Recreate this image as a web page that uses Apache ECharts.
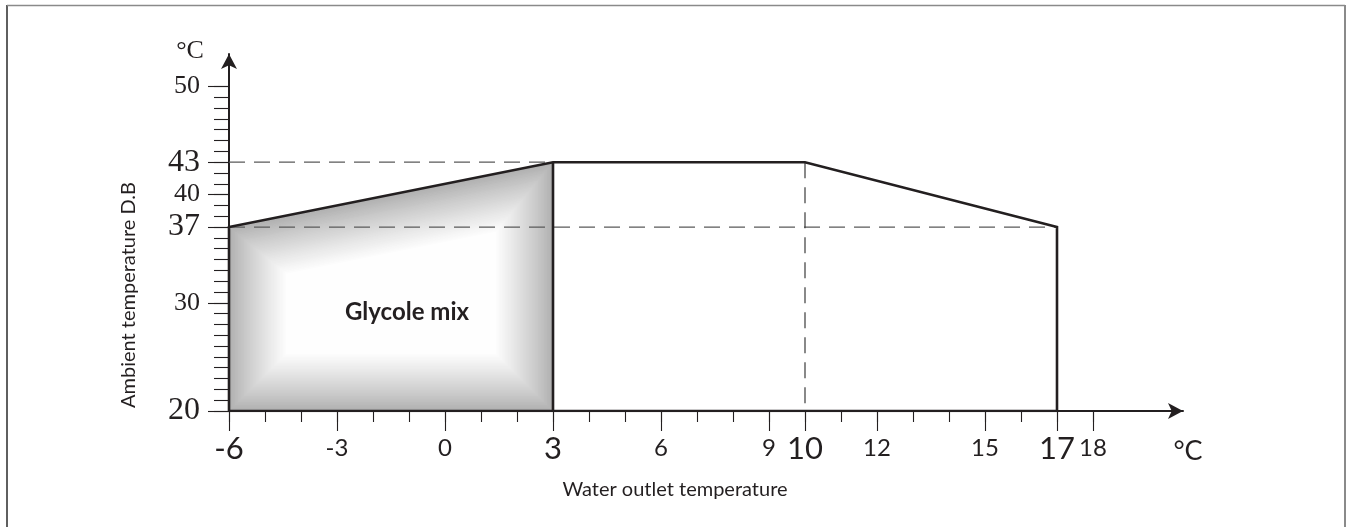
<!DOCTYPE html>
<html><head><meta charset="utf-8">
<script src="https://cdn.jsdelivr.net/npm/echarts@6/dist/echarts.min.js"></script>
<style>html,body{margin:0;padding:0;background:#fff}#c{width:1350px;height:527px}</style>
</head><body><div id="c"></div>
<script>
// ---- data ----
const xMinorTicks = [-6,-5,-4,-3,-2,-1,0,1,2,3,4,5,6,7,8,9,10,11,12,13,14,15,16,17,18];
const xMajorTicks = [-6,-3,0,3,6,9,10,12,15,17,18];
const xBigLabels  = [-6,3,10,17];
const yMinorTicks = [20,21,22,23,24,25,26,27,28,29,30,31,32,33,34,35,36,37,38,39,40,41,42,43,44,45,46,47,48,49,50];
const yMajorTicks = [20,30,37,40,43,50];
const yBigLabels  = [20,37,43];

const envelopeX = [-6,-6,3,10,17,17,-6];
const envelopeY = [20,37,43,43,37,20,20];
const splitX = [3,3];
const splitY = [43,20];
const glycolX = [-6,-6,3,3];
const glycolY = [20,37,43,20];
const ref43X = [-6,3];  const ref43Y = [43,43];
const ref37X = [-6,17]; const ref37Y = [37,37];
const ref10X = [10,10]; const ref10Y = [43,20];

const pairs = (xs, ys) => xs.map((x, i) => [x, ys[i]]);

// ---- helpers for the bevel-shaded glycol area ----
function insetPolygon(pts, d) {
  const n = pts.length;
  let cx = 0, cy = 0;
  pts.forEach(p => { cx += p[0]; cy += p[1]; });
  cx /= n; cy /= n;
  const lines = [];
  for (let i = 0; i < n; i++) {
    const a = pts[i], b = pts[(i + 1) % n];
    let ux = b[0] - a[0], uy = b[1] - a[1];
    const len = Math.hypot(ux, uy); ux /= len; uy /= len;
    let nx = -uy, ny = ux;
    if ((cx - a[0]) * nx + (cy - a[1]) * ny < 0) { nx = -nx; ny = -ny; }
    lines.push({ p: [a[0] + nx * d, a[1] + ny * d], u: [ux, uy] });
  }
  const out = [];
  for (let i = 0; i < n; i++) {
    const L1 = lines[(i - 1 + n) % n], L2 = lines[i];
    const cr = L1.u[0] * L2.u[1] - L1.u[1] * L2.u[0];
    const bx = L2.p[0] - L1.p[0], by = L2.p[1] - L1.p[1];
    const s = (bx * L2.u[1] - by * L2.u[0]) / cr;
    out.push([L1.p[0] + L1.u[0] * s, L1.p[1] + L1.u[1] * s]);
  }
  return out;
}
function shade(t) {
  const g0 = 174;
  const e = Math.pow(t, 0.85);
  const v = Math.round(g0 + (255 - g0) * e);
  return 'rgb(' + v + ',' + v + ',' + v + ')';
}

const chart = echarts.init(document.getElementById('c'), null, { renderer: 'canvas' });
const ink = '#231f20';
const sans = 'Lato';
const serif = 'Liberation Serif';

chart.setOption({
  animation: false,
  backgroundColor: '#fff',
  grid: { left: 229, top: 54, width: 954, height: 357, containLabel: false, outerBoundsMode: 'none' },
  xAxis: [
    {
      type: 'value', min: -6, max: 20.5, position: 'bottom',
      axisLine: { onZero: false, show: true, symbol: ['none', 'arrow'], symbolSize: [12, 15], symbolOffset: [0, 0], lineStyle: { color: ink, width: 2 } },
      axisTick: { show: true, customValues: xMinorTicks, length: 11, lineStyle: { color: ink, width: 1.1 } },
      axisLabel: { show: false },
      splitLine: { show: false }
    },
    {
      type: 'value', min: -6, max: 20.5, position: 'bottom',
      axisLine: { onZero: false, show: false },
      axisTick: { show: true, customValues: xMajorTicks, length: 20, lineStyle: { color: ink, width: 1.1 } },
      axisLabel: {
        show: true, customValues: xMajorTicks, margin: 23, verticalAlign: 'top',
        formatter: v => (xBigLabels.indexOf(v) >= 0 ? '{b|' + v + '}' : '{s|' + v + '}'),
        rich: {
          b: { fontFamily: sans, fontSize: 31, lineHeight: 30, color: ink },
          s: { fontFamily: sans, fontSize: 24, lineHeight: 24, color: ink, padding: [5, 0, 0, 0] }
        }
      },
      splitLine: { show: false }
    }
  ],
  yAxis: [
    {
      type: 'value', min: 20, max: 53, position: 'left',
      axisLine: { onZero: false, show: true, symbol: ['none', 'arrow'], symbolSize: [12, 15], lineStyle: { color: ink, width: 2 } },
      axisTick: { show: true, customValues: yMinorTicks, length: 15, lineStyle: { color: ink, width: 1.1 } },
      axisLabel: { show: false },
      splitLine: { show: false }
    },
    {
      type: 'value', min: 20, max: 53, position: 'left',
      axisLine: { onZero: false, show: false },
      axisTick: { show: true, customValues: yMajorTicks, length: 21, lineStyle: { color: ink, width: 1.1 } },
      axisLabel: {
        show: true, customValues: yMajorTicks, margin: 29,
        formatter: v => (yBigLabels.indexOf(v) >= 0 ? '{b|' + v + '}' : '{s|' + v + '}'),
        rich: {
          b: { fontFamily: serif, fontSize: 32, color: ink },
          s: { fontFamily: serif, fontSize: 26, color: ink }
        }
      },
      splitLine: { show: false }
    }
  ],
  graphic: [
    { type: 'line', shape: { x1: 7, y1: 5, x2: 7, y2: 527 }, style: { stroke: '#2a2a2a', lineWidth: 1.5 } },
    { type: 'line', shape: { x1: 7, y1: 5.5, x2: 1345, y2: 5.5 }, style: { stroke: '#8a8a8a', lineWidth: 1.5 } },
    { type: 'line', shape: { x1: 1345, y1: 5, x2: 1345, y2: 527 }, style: { stroke: '#8a8a8a', lineWidth: 2 } },
    { type: 'text', x: 190, y: 51, style: { text: '°C', font: '26px ' + serif, fill: ink, align: 'center', verticalAlign: 'middle' } },
    { type: 'text', x: 1188, y: 451, style: { text: '°C', font: '27px ' + sans, fill: ink, align: 'center', verticalAlign: 'middle' } },
    { type: 'text', x: 675, y: 490, style: { text: 'Water outlet temperature', font: '20px ' + sans, fill: ink, align: 'center', verticalAlign: 'middle' } },
    { type: 'text', x: 129, y: 295, rotation: Math.PI / 2, style: { text: 'Ambient temperature D.B', font: '20px ' + sans, fill: ink, align: 'center', verticalAlign: 'middle' } },
    { type: 'text', x: 407, y: 312, z: 100, style: { text: 'Glycole mix', font: 'bold 24px ' + sans, fill: ink, align: 'center', verticalAlign: 'middle' } }
  ],
  series: [
    {
      type: 'custom', xAxisIndex: 0, yAxisIndex: 0, z: 1, silent: true,
      data: [[glycolX[0], glycolY[0]]],
      renderItem: (params, api) => {
        const pts = glycolX.map((x, i) => api.coord([x, glycolY[i]]));
        const fade = 58, step = 1.5;
        const children = [];
        for (let d = 0; d <= fade; d += step) {
          children.push({ type: 'polygon', shape: { points: insetPolygon(pts, d) }, style: { fill: shade(d / fade) } });
        }
        return { type: 'group', children };
      }
    },
    { type: 'line', xAxisIndex: 0, yAxisIndex: 0, z: 3, symbol: 'none', silent: true, data: pairs(ref43X, ref43Y), lineStyle: { color: '#5a5a5a', width: 1.3, type: [16, 9] } },
    { type: 'line', xAxisIndex: 0, yAxisIndex: 0, z: 3, symbol: 'none', silent: true, data: pairs(ref37X, ref37Y), lineStyle: { color: '#5a5a5a', width: 1.3, type: [16, 9] } },
    { type: 'line', xAxisIndex: 0, yAxisIndex: 0, z: 3, symbol: 'none', silent: true, data: pairs(ref10X, ref10Y), lineStyle: { color: '#3a3a3a', width: 1.2, type: [16, 9] } },
    { type: 'line', xAxisIndex: 0, yAxisIndex: 0, z: 5, symbol: 'none', silent: true, data: pairs(envelopeX, envelopeY), lineStyle: { color: ink, width: 2.6, join: 'miter' } },
    { type: 'line', xAxisIndex: 0, yAxisIndex: 0, z: 5, symbol: 'none', silent: true, data: pairs(splitX, splitY), lineStyle: { color: ink, width: 2.6 } }
  ]
});
</script>
</body></html>
